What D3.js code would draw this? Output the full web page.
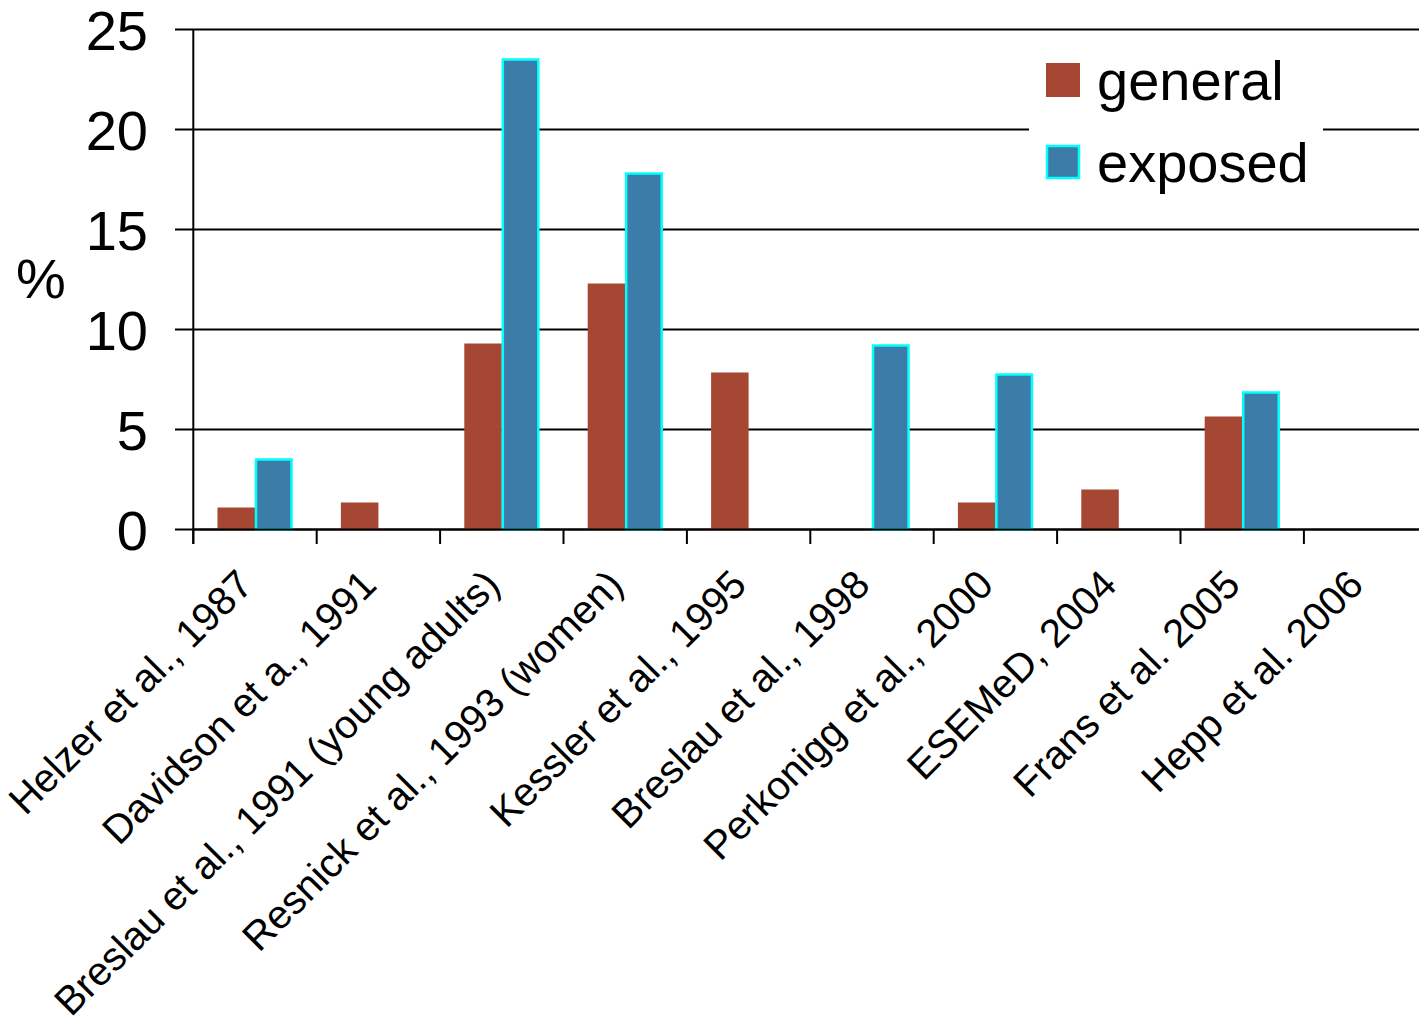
<!DOCTYPE html>
<html>
<head>
<meta charset="utf-8">
<script src="https://cdn.jsdelivr.net/npm/d3@7"></script>
<style>
html,body{margin:0;padding:0;background:#fff;}
svg{display:block;font-family:"Liberation Sans",Arial,sans-serif;}
</style>
</head>
<body>
<svg id="chart" width="1419" height="1027"></svg>
<script>
const categories = [
  "Helzer et al., 1987",
  "Davidson et a., 1991",
  "Breslau et al., 1991 (young adults)",
  "Resnick et al., 1993 (women)",
  "Kessler et al., 1995",
  "Breslau et al., 1998",
  "Perkonigg et al., 2000",
  "ESEMeD, 2004",
  "Frans et al. 2005",
  "Hepp et al. 2006"
];
const seriesNames = ["general", "exposed"];
const generalValues = [1.1, 1.35, 9.3, 12.3, 7.85, null, 1.35, 2.0, 5.65, null];
const exposedValues = [3.5, null, 23.5, 17.8, null, 9.2, 7.75, null, 6.85, null];
const yTicks = [0, 5, 10, 15, 20, 25];
const yLabel = "%";

const colors = {general: "#A54733", exposed: "#3B7CA8"};
const strokes = {general: "none", exposed: "#00FFFF"};

const W = 1419, H = 1027;
const svg = d3.select("#chart");

const x0 = 193.3, step = 123.4;
const x = d3.scaleBand().domain(categories).range([x0, x0 + step * categories.length]).padding(0);
const xs = d3.scaleBand().domain(seriesNames).range([0, x.bandwidth()]).paddingInner(0).paddingOuter(0.645);
const y = d3.scaleLinear().domain([0, 25]).range([529.5, 29.5]);

// gridlines
svg.append("g").selectAll("line").data(yTicks).join("line")
  .attr("x1", 175).attr("x2", W)
  .attr("y1", d => y(d)).attr("y2", d => y(d))
  .attr("stroke", "#000").attr("stroke-width", 2);

// y tick labels
svg.append("g").selectAll("text").data(yTicks).join("text")
  .attr("x", 148).attr("y", d => y(d))
  .attr("dy", "0.36em")
  .attr("text-anchor", "end")
  .attr("font-size", 56)
  .attr("fill", "#000")
  .text(d => d);

// y label
svg.append("text").attr("x", 41).attr("y", 298)
  .attr("text-anchor", "middle").attr("font-size", 56).text(yLabel);

// bars
const rows = categories.map((c, i) => ({cat: c, general: generalValues[i], exposed: exposedValues[i]}));
const groups = svg.append("g").selectAll("g").data(rows).join("g")
  .attr("transform", d => `translate(${x(d.cat)},0)`);
groups.selectAll("rect")
  .data(d => seriesNames.filter(s => d[s] != null).map(s => ({s, v: d[s]})))
  .join("rect")
  .attr("x", d => xs(d.s) + (d.s === "exposed" ? 1 : 0))
  .attr("width", d => xs.bandwidth() - (d.s === "exposed" ? 2 : 0))
  .attr("y", d => y(d.v))
  .attr("height", d => y(0) - y(d.v))
  .attr("fill", d => colors[d.s])
  .attr("stroke", d => strokes[d.s])
  .attr("stroke-width", 2.5);

// x axis
const xAxis = svg.append("g");
xAxis.append("line").attr("x1", x0).attr("x2", W).attr("y1", y(0)).attr("y2", y(0))
  .attr("stroke", "#000").attr("stroke-width", 2);
xAxis.append("line").attr("x1", x0).attr("x2", x0).attr("y1", y(25)).attr("y2", 544)
  .attr("stroke", "#000").attr("stroke-width", 2);
xAxis.selectAll("line.tick").data(categories).join("line").attr("class", "tick")
  .attr("x1", d => x(d)).attr("x2", d => x(d))
  .attr("y1", y(0)).attr("y2", 544)
  .attr("stroke", "#000").attr("stroke-width", 2);
xAxis.selectAll("text").data(categories).join("text")
  .attr("transform", d => `translate(${x(d) + x.bandwidth() / 2},587) rotate(-45)`)
  .attr("text-anchor", "end")
  .attr("font-size", 40)
  .attr("fill", "#000")
  .text(d => d);

// legend
const lg = svg.append("g");
lg.append("rect").attr("x", 1029).attr("y", 40).attr("width", 294).attr("height", 160).attr("fill", "#fff");
const legendY = {general: 63, exposed: 145};
seriesNames.forEach(s => {
  lg.append("rect").attr("x", s === "exposed" ? 1047 : 1046).attr("y", legendY[s] + (s === "exposed" ? 1 : 0))
    .attr("width", s === "exposed" ? 32 : 34).attr("height", s === "exposed" ? 32 : 34)
    .attr("fill", colors[s]).attr("stroke", strokes[s]).attr("stroke-width", 2.5);
  lg.append("text").attr("x", 1097).attr("y", legendY[s] + 37)
    .attr("font-size", 56).attr("fill", "#000").text(s);
});
</script>
</body>
</html>
